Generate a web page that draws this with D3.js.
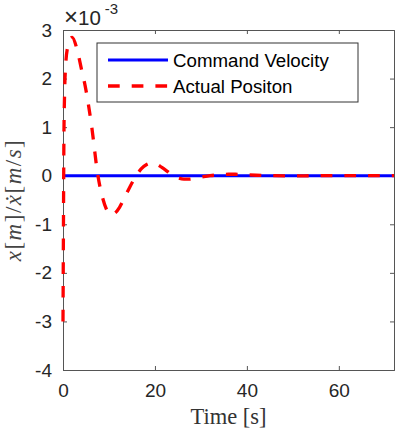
<!DOCTYPE html>
<html>
<head>
<meta charset="utf-8">
<script src="https://cdn.jsdelivr.net/npm/d3@7"></script>
<style>
  body { margin: 0; background: #fff; }
  .tick text { font-family: "Liberation Sans", Arial, sans-serif; font-size: 19px; fill: #262626; }
</style>
</head>
<body>
<div id="chart"></div>
<script>
// Data (values in units of 1e-3)
var timeValues = [0, 0.1, 0.2, 0.35, 0.6, 1.0, 1.5, 2.0, 3.0, 4.0, 4.8, 6.2, 7.6, 8.6, 9.6, 10.4, 11.3, 12.3, 13.4, 14.6, 15.8, 17.0, 18.2, 19.3, 20.3, 21.5, 22.7, 24.0, 25.2, 26.3, 27.5, 28.7, 30.0, 32.0, 34.0, 36.0, 37.5, 39.5, 42.0, 46.0, 50.0, 55.0, 60.0, 65.0, 72.0];
var positionValues = [-3.0, -1.0, 0.8, 1.7, 2.3, 2.65, 2.82, 2.85, 2.62, 2.2, 1.86, 1.04, 0.0, -0.45, -0.72, -0.8, -0.77, -0.65, -0.45, -0.22, -0.02, 0.14, 0.23, 0.26, 0.24, 0.17, 0.09, 0.0, -0.05, -0.07, -0.07, -0.05, -0.03, 0.0, 0.02, 0.03, 0.03, 0.02, 0.01, 0.0, -0.005, 0.0, 0.0, 0.0, 0.0];
var commandTimes = [0, 72];
var commandValues = [0, 0];
var xTicks = [0, 20, 40, 60];
var yTicks = [-4, -3, -2, -1, 0, 1, 2, 3];
var seriesNames = ["Command Velocity", "Actual Positon"];

var svgWidth = 399;
var svgHeight = 434;

var margin = { top: 30, right: 5, bottom: 64, left: 63 };
var chartWidth = svgWidth - margin.left - margin.right;
var chartHeight = svgHeight - margin.top - margin.bottom;

var svg = d3.select("#chart")
  .append("svg")
  .attr("width", svgWidth)
  .attr("height", svgHeight);

var chartGroup = svg.append("g")
  .attr("transform", `translate(${margin.left}, ${margin.top})`);

var xLinearScale = d3.scaleLinear().domain([0, 72]).range([0, chartWidth]);
var yLinearScale = d3.scaleLinear().domain([-4, 3]).range([chartHeight, 0]);

var axisColor = "#555";
var plainFormat = d => d.toString();

// axes (inner ticks on all four sides)
var bottomAxis = d3.axisBottom(xLinearScale).tickValues(xTicks).tickSize(-4).tickPadding(14).tickFormat(plainFormat);
var topAxis = d3.axisTop(xLinearScale).tickValues(xTicks).tickSize(-4).tickFormat("");
var leftAxis = d3.axisLeft(yLinearScale).tickValues(yTicks).tickSize(-4).tickPadding(11).tickFormat(plainFormat);
var rightAxis = d3.axisRight(yLinearScale).tickValues(yTicks).tickSize(-4).tickFormat("");

function styleAxis(g) {
  g.select(".domain").attr("stroke", axisColor);
  g.selectAll(".tick line").attr("stroke", axisColor);
}

chartGroup.append("g").attr("transform", `translate(0, ${chartHeight})`).call(bottomAxis).call(styleAxis);
chartGroup.append("g").call(topAxis).call(styleAxis);
chartGroup.append("g").call(leftAxis).call(styleAxis);
chartGroup.append("g").attr("transform", `translate(${chartWidth}, 0)`).call(rightAxis).call(styleAxis);

// lines
var commandData = commandTimes.map((t, i) => ({ t: t, v: commandValues[i] }));
var positionData = timeValues.map((t, i) => ({ t: t, v: positionValues[i] }));

var line = d3.line()
  .x(d => xLinearScale(d.t))
  .y(d => yLinearScale(d.v))
  .curve(d3.curveMonotoneX);

chartGroup.append("path")
  .datum(commandData)
  .attr("d", line)
  .attr("fill", "none")
  .attr("stroke", "#0000ff")
  .attr("stroke-width", 3);

chartGroup.append("path")
  .datum(positionData)
  .attr("d", line)
  .attr("fill", "none")
  .attr("stroke", "#ff0000")
  .attr("stroke-width", 3.3)
  .attr("stroke-dasharray", "11.7,12");

// exponent label
var expText = svg.append("text")
  .attr("x", 64)
  .attr("y", 24.5)
  .attr("font-family", "Liberation Sans, Arial, sans-serif")
  .attr("font-size", 20.5)
  .attr("fill", "#262626");
expText.append("tspan").attr("font-size", 24).attr("font-weight", 300).text("\u00d7");
expText.append("tspan").text("10");
expText.append("tspan").attr("dx", 4).attr("dy", -11).attr("font-size", 15).text("-3");

// legend
var legend = svg.append("g").attr("transform", "translate(97, 43)");
legend.append("rect")
  .attr("width", 261)
  .attr("height", 59)
  .attr("fill", "#fff")
  .attr("stroke", "#333")
  .attr("stroke-width", 1);

var legendColors = ["#0000ff", "#ff0000"];
seriesNames.forEach(function(name, i) {
  var y = 17 + i * 26;
  legend.append("line")
    .attr("x1", 11).attr("x2", 71)
    .attr("y1", y).attr("y2", y)
    .attr("stroke", legendColors[i])
    .attr("stroke-width", i === 0 ? 3 : 3.3)
    .attr("stroke-dasharray", i === 0 ? null : "11.7,12");
  legend.append("text")
    .attr("x", 76)
    .attr("y", y + 6.5)
    .attr("font-family", "Liberation Sans, Arial, sans-serif")
    .attr("font-size", 18.7)
    .attr("fill", "#000")
    .text(name);
});

// axis labels
svg.append("text")
  .attr("x", margin.left + chartWidth / 2)
  .attr("y", 424)
  .attr("text-anchor", "middle")
  .attr("font-family", "Liberation Serif, Times New Roman, serif")
  .attr("font-size", 22.5)
  .attr("fill", "#333")
  .text("Time [s]");

var yLabel = svg.append("text")
  .attr("transform", `translate(21, ${margin.top + chartHeight / 2}) rotate(-90)`)
  .attr("text-anchor", "middle")
  .attr("font-family", "Liberation Serif, Times New Roman, serif")
  .attr("font-size", 23)
  .attr("letter-spacing", 1.5)
  .attr("fill", "#444");
var yParts = [["x", true], ["[", false], ["m", true], ["]", false], ["/", false], ["x\u0307", true], ["[", false], ["m", true], ["/", false], ["s", true], ["]", false]];
yParts.forEach(function(p) {
  yLabel.append("tspan").attr("font-style", p[1] ? "italic" : "normal").text(p[0]);
});
</script>
</body>
</html>
